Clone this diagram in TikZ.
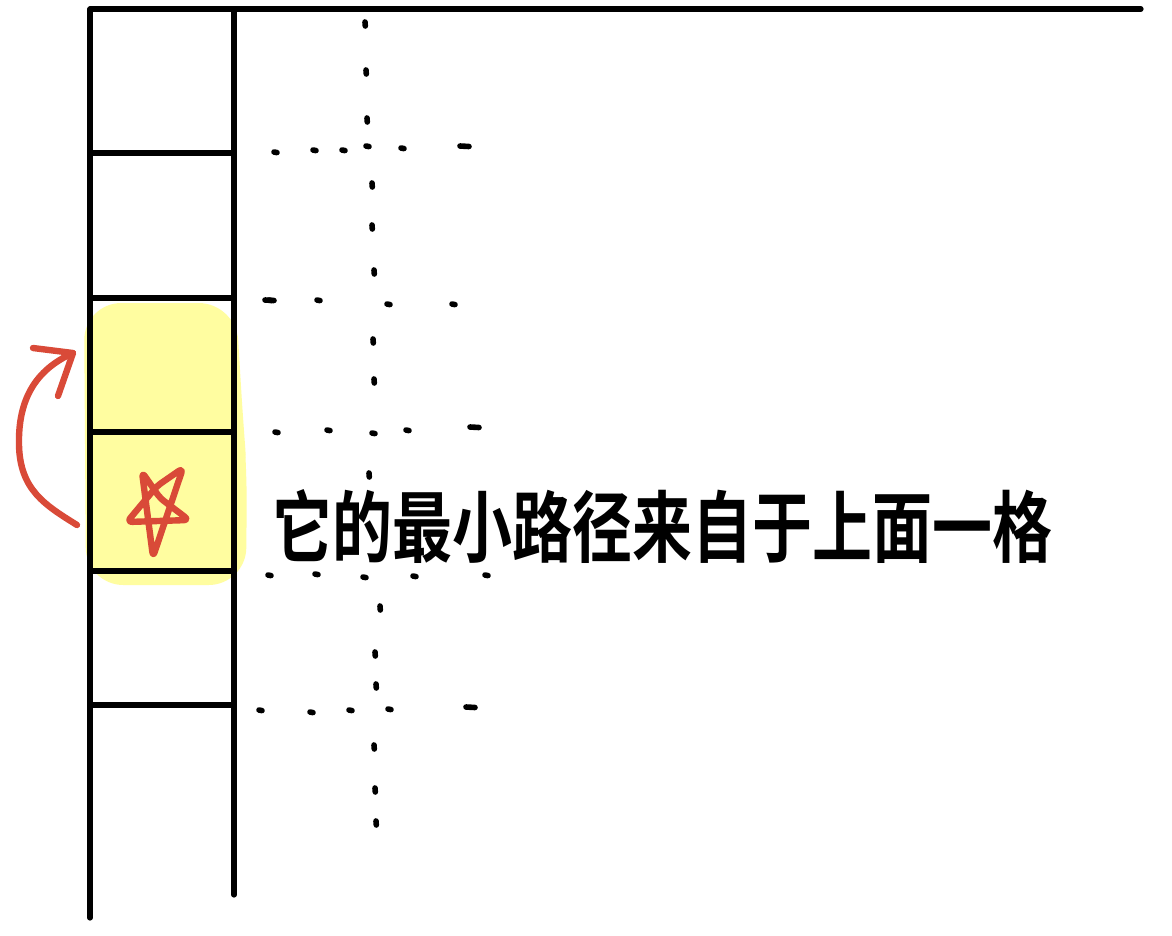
\documentclass[tikz,border=0pt]{standalone}
\usepackage{fontspec}
\newfontfamily\cjk{Noto Sans CJK SC}[BoldFont={Noto Sans CJK SC Bold}]
\begin{document}
\begin{tikzpicture}[x=0.75pt,y=-0.75pt,
  ink/.style={line width=3.9pt,line cap=round,line join=round,black},
  dotmark/.style={line width=4.2pt,line cap=round,black},
  redpen/.style={line width=4.8pt,line cap=round,line join=round,draw={rgb,255:red,217;green,74;blue,56}},
  hilite/.style={fill={rgb,255:red,255;green,253;blue,160},draw=none}]
\useasboundingbox (0,0) rectangle (1172,936);
\fill[white] (0,0) rectangle (1172,936);
% yellow highlight
\fill[hilite,rounded corners=28] (84,303) -- (236,303) -- (243,420) -- (247,470) -- (246,585) -- (86,585) -- cycle;
% frame
\draw[ink] (90,9) -- (1141,9);
\draw[ink] (90,9) -- (90,918);
\draw[ink] (234,9) -- (234,895);
\foreach \y in {153,298,432,571,705} \draw[ink] (92,\y) -- (232,\y);
% dotted grid: vertical
\foreach \x/\y in {365/22,366/70,367/118,372/183,372/225,374/270,373/339,374/379,369/473,380/606,375/652,376/684,374/745,375/788,376/821}
  \draw[dotmark] (\x,\y) -- ++(0.3,4);
% horizontal rows
\foreach \x/\y in {274/152,313/150,342/150,366/146,401/148,269/300,317/300,387/304,452/304,275/432,327/430,372/433,406/430,268/575,315/574,363/577,413/576,485/575,259/710,310/712,349/710,388/709}
  \draw[dotmark] (\x,\y) -- ++(3,0.6);
\foreach \x/\y in {460/146,265/300,470/427,466/707}
  \draw[dotmark] (\x,\y) -- ++(9,0.5);
% star
\draw[redpen,rounded corners=4] (142,472) -- (153,557) -- (183,468) -- (157,486) -- (127,522) -- (189,520) -- (160,498) -- cycle;
% arrow
\coordinate (arrS) at (77,525);
\coordinate (arrT) at (73,353);
\draw[redpen] (arrS) .. controls (45,505) and (20,490) .. (19,445)
  .. controls (18,400) and (35,370) .. (arrT);
\draw[redpen] (33,348) -- (arrT) -- (58,396);
% text
\node[anchor=west,inner sep=0pt,yscale=1.3] (label) at (272,526) {\cjk\bfseries\fontsize{45}{45}\selectfont 它的最小路径来自于上面一格};
\end{tikzpicture}
\end{document}
